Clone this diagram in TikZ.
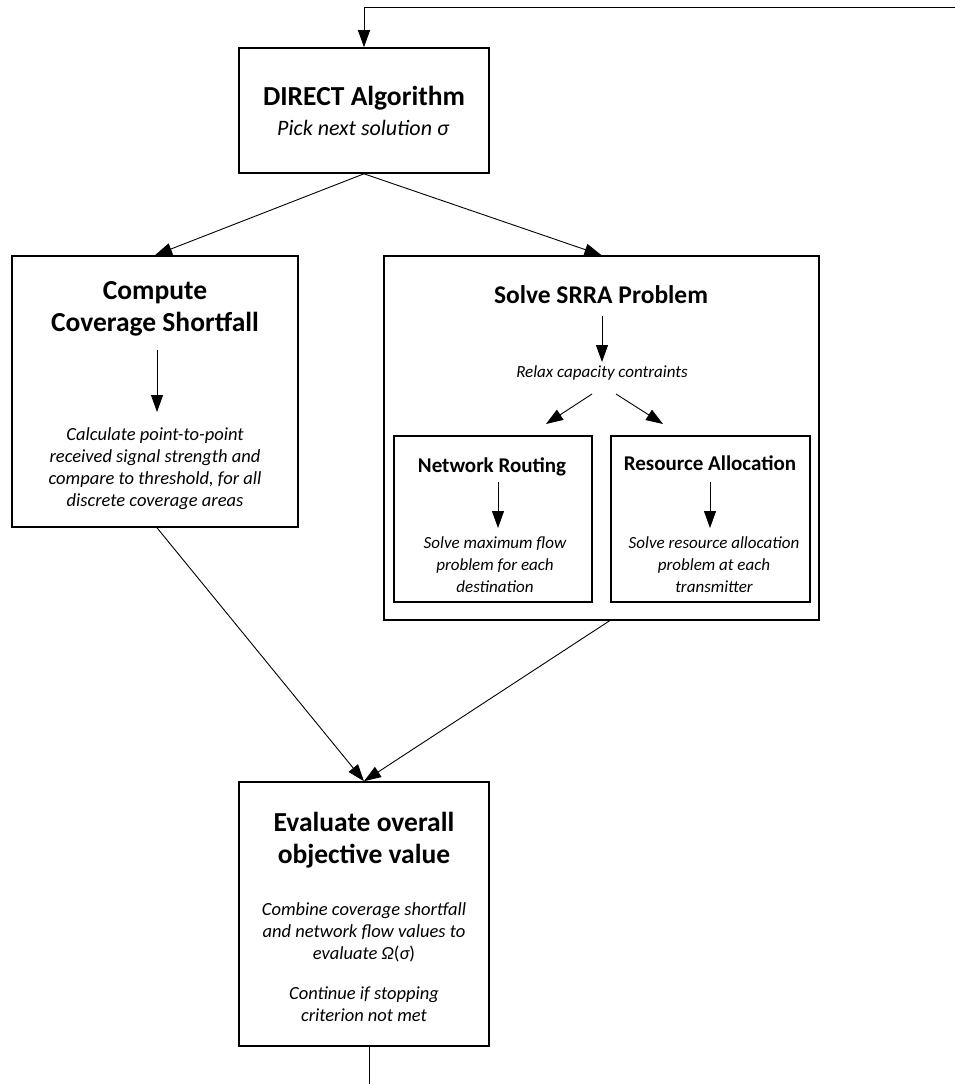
\documentclass[tikz,border=0pt]{standalone}
\usepackage{fontspec}
\setmainfont{Carlito}
\usetikzlibrary{arrows.meta}

\begin{document}
\begin{tikzpicture}[x=1pt,y=-1pt,
  box/.style={draw, line width=1.6pt, inner sep=0pt},
  link/.style={line width=0.9pt, -{Triangle[length=17pt,width=12pt]}},
  ttl/.style={font=\fontsize{27.5}{32}\selectfont\bfseries, align=center, inner sep=0pt},
  subttl/.style={font=\fontsize{21}{25}\selectfont\bfseries, align=center, inner sep=0pt},
  note/.style={font=\fontsize{17}{22}\selectfont\itshape, align=center, inner sep=0pt},
  bignote/.style={note, font=\fontsize{18.5}{22}\selectfont\itshape},
]
\useasboundingbox (0,0) rectangle (955,1084);

% main boxes
\node[box, minimum width=250, minimum height=125] (direct) at (364,110.5) {};
\node[box, minimum width=286, minimum height=271] (cover)  at (155,391.5) {};
\node[box, minimum width=435, minimum height=364] (srra)   at (601.5,438) {};
\node[box, minimum width=198, minimum height=166] (route)  at (493,519) {};
\node[box, minimum width=199, minimum height=166] (alloc)  at (710.5,519) {};
\node[box, minimum width=250, minimum height=264] (eval)   at (364,914) {};

% DIRECT step
\node[ttl]  (directT) at (364,98) {DIRECT Algorithm};
\node[note, font=\fontsize{22}{26}\selectfont\itshape] (directN) at (363,128) {Pick next solution σ};

% coverage step
\node[ttl]  (coverT) at (155,309) {Compute\\Coverage Shortfall};
\node[bignote] (coverN) at (155,469) {Calculate point-to-point\\received signal strength and\\compare to threshold, for all\\discrete coverage areas};
\coordinate (coverA1) at (157,350);
\coordinate (coverA2) at (157,412);
\draw[link] (coverA1) -- (coverA2);

% SRRA step
\node[ttl, font=\fontsize{25.5}{30}\selectfont\bfseries]  (srraT) at (601,295) {Solve SRRA Problem};
\node[note] (relax) at (602,373) {Relax capacity contraints};
\coordinate (srraA1) at (602,316);
\coordinate (srraA2) at (602,362);
\draw[link] (srraA1) -- (srraA2);
\coordinate (relaxL1) at (592,394);
\coordinate (relaxL2) at (546,424);
\coordinate (relaxR1) at (616,394);
\coordinate (relaxR2) at (663,424);
\draw[link] (relaxL1) -- (relaxL2);
\draw[link] (relaxR1) -- (relaxR2);

% routing sub-step
\node[subttl] (routeT) at (492,467) {Network Routing};
\node[note]   (routeN) at (495,565) {Solve maximum flow\\problem for each\\destination};
\coordinate (routeA1) at (498,482);
\coordinate (routeA2) at (498,528);
\draw[link] (routeA1) -- (routeA2);

% allocation sub-step
\node[subttl] (allocT) at (710,463) {Resource Allocation};
\node[note]   (allocN) at (714,565) {Solve resource allocation\\problem at each\\transmitter};
\coordinate (allocA1) at (710,482);
\coordinate (allocA2) at (710,528);
\draw[link] (allocA1) -- (allocA2);

% evaluation step
\node[ttl]  (evalT)  at (364,840) {Evaluate overall\\objective value};
\node[bignote] (evalN1) at (364,932) {Combine coverage shortfall\\and network flow values to\\evaluate Ω{\upshape(}σ{\upshape)}};
\node[bignote] (evalN2) at (364,1004) {Continue if stopping\\criterion not met};

% connectors between steps
\draw[link] (direct.south) -- (cover.north);
\draw[link] (direct.south) -- (srra.north);
\draw[link] ([xshift=2pt]cover.south) -- (eval.north);
\draw[link] ([xshift=8pt]srra.south) -- (eval.north);

% loop back to the start
\coordinate (loopB)  at (369,1084);
\coordinate (loopTR) at (955,7);
\coordinate (loopTL) at (364,7);
\draw[line width=0.9pt] ([xshift=5pt]eval.south) -- (loopB);
\draw[link] (loopTR) -- (loopTL) -- (direct.north);
\end{tikzpicture}
\end{document}
